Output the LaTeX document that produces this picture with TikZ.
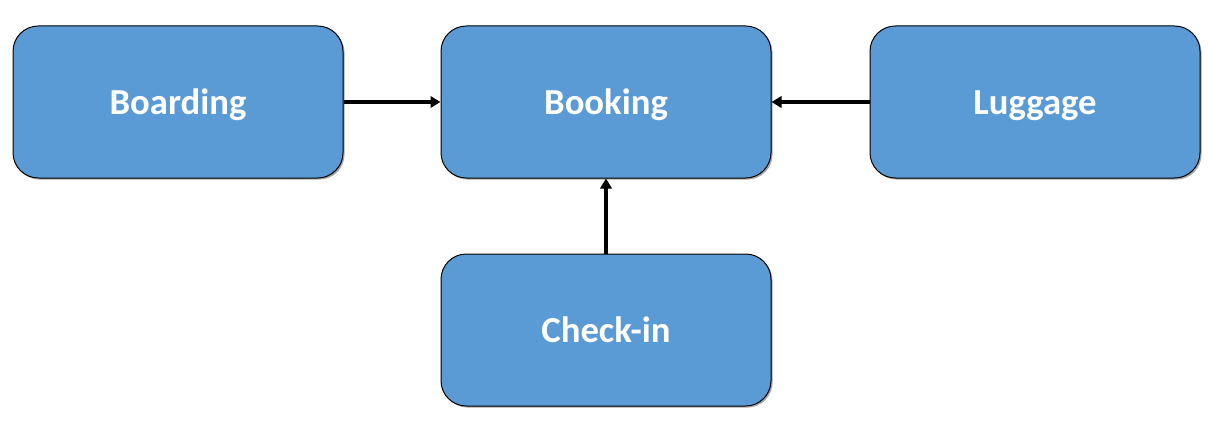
\documentclass[tikz,border=0pt]{standalone}
\usepackage{fontspec}
\setmainfont{Carlito}
\usetikzlibrary{shadows,arrows.meta}
\definecolor{boxblue}{HTML}{5B9BD5}
\begin{document}
\begin{tikzpicture}[x=0.75pt,y=-0.75pt,
  box/.style={draw=black,line width=0.75pt,fill=boxblue,rounded corners=19pt,
    minimum width=247.5pt,minimum height=114pt,inner sep=0pt,
    text height=24pt,text depth=6pt,
    text=white,font=\fontsize{27.5}{32}\selectfont\bfseries,
    drop shadow={shadow xshift=1.2pt,shadow yshift=-1.2pt,opacity=0.35,fill=black}},
  conn/.style={line width=2.8pt,-{Triangle[length=7.5pt,width=8.5pt]}}]
\useasboundingbox (0,0) rectangle (1214,428);
\node[box] (boarding) at (178,102) {Boarding};
\node[box] (booking) at (606,102) {Booking};
\node[box] (luggage) at (1035,102) {Luggage};
\node[box] (checkin) at (606,330) {Check-in};
\draw[conn] (boarding) -- (booking);
\draw[conn] (luggage) -- (booking);
\draw[conn] (checkin) -- (booking);
\end{tikzpicture}
\end{document}
